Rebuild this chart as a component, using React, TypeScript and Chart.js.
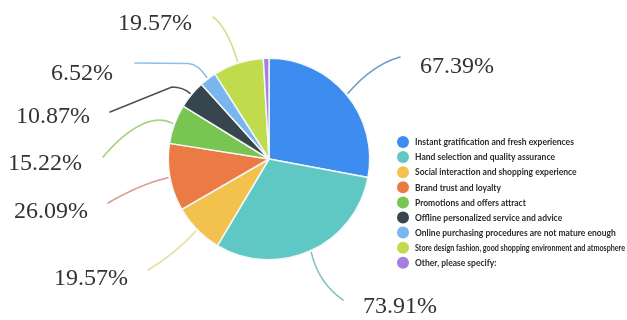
import React, { useEffect, useRef } from 'react';
import { Chart, registerables } from 'chart.js';

Chart.register(...registerables);

const categories = [
  'Instant gratification and fresh experiences',
  'Hand selection and quality assurance',
  'Social interaction and shopping experience',
  'Brand trust and loyalty',
  'Promotions and offers attract',
  'Offline personalized service and advice',
  'Online purchasing procedures are not mature enough',
  'Store design fashion, good shopping environment and atmosphere',
  'Other, please specify:',
];

const values = [67.39, 73.91, 19.57, 26.09, 15.22, 10.87, 6.52, 19.57, 2.17];

const sliceColors = [
  '#3d8cef',
  '#5fc8c5',
  '#f3c14d',
  '#ec7a45',
  '#78c552',
  '#37464e',
  '#79b6f0',
  '#c0dc4c',
  '#a47fe0',
];

const leaderColors = [
  '#6f9cc7',
  '#82c2c2',
  '#eadf9c',
  '#d99a92',
  '#a6d282',
  '#4b5358',
  '#8cc0e8',
  '#d5df8c',
  '#b79ae6',
];

// label placement relative to the pie centre (px); paths start at the slice's outer edge
type Seg = (string | number)[];
const labelLayout: { align: CanvasTextAlign; at: [number, number]; path: Seg[] }[] = [
  { align: 'left', at: [151, -92], path: [['q', 103, -94, 131, -102]] },
  { align: 'left', at: [94, 148], path: [['q', 49.5, 124, 74, 141]] },
  { align: 'right', at: [-141, 120], path: [['q', -95, 96, -121, 111]] },
  { align: 'right', at: [-181, 53], path: [['q', -127, 24.5, -161, 44]] },
  { align: 'right', at: [-187, 5], path: [['c', -114, -45, -139, -34, -166, -2]] },
  { align: 'right', at: [-179, -42], path: [['q', -86, -72, -97, -72], ['l', -159, -47]] },
  { align: 'right', at: [-156, -85], path: [['q', -71, -95, -81, -95.5], ['l', -134, -96]] },
  { align: 'right', at: [-77, -135], path: [['q', -42, -132, -56, -142]] },
];

const legendLayout = { dx: 134, dy: -17, step: 15.1, r: 6, textGap: 12, squeeze: 0.85 };

const labelsPlugin = {
  id: 'outerLabels',
  afterDraw(chart: any) {
    const ctx: CanvasRenderingContext2D = chart.ctx;
    const meta = chart.getDatasetMeta(0);
    const arcs = meta.data;
    if (!arcs.length) return;
    const cx = arcs[0].x;
    const cy = arcs[0].y;
    const ds = chart.data.datasets[0];

    // leader lines + percentage labels
    labelLayout.forEach((lay, i) => {
      const arc = arcs[i];
      const mid = (arc.startAngle + arc.endAngle) / 2;
      const rr = arc.outerRadius + 2;
      ctx.save();
      ctx.strokeStyle = leaderColors[i];
      ctx.lineWidth = 1.6;
      ctx.lineCap = 'round';
      ctx.lineJoin = 'round';
      ctx.beginPath();
      ctx.moveTo(cx + Math.cos(mid) * rr, cy + Math.sin(mid) * rr);
      lay.path.forEach((s) => {
        const n = s.slice(1) as number[];
        if (s[0] === 'q') ctx.quadraticCurveTo(cx + n[0], cy + n[1], cx + n[2], cy + n[3]);
        else if (s[0] === 'c')
          ctx.bezierCurveTo(cx + n[0], cy + n[1], cx + n[2], cy + n[3], cx + n[4], cy + n[5]);
        else ctx.lineTo(cx + n[0], cy + n[1]);
      });
      ctx.stroke();
      ctx.fillStyle = '#333333';
      ctx.font = '24px "Liberation Serif", "Times New Roman", serif';
      ctx.textAlign = lay.align;
      ctx.textBaseline = 'middle';
      ctx.fillText(values[i].toFixed(2) + '%', cx + lay.at[0], cy + lay.at[1]);
      ctx.restore();
    });

    // legend
    const labels: string[] = chart.data.labels;
    labels.forEach((lab, i) => {
      const x = cx + legendLayout.dx;
      const y = cy + legendLayout.dy + i * legendLayout.step;
      const tx = x + legendLayout.textGap;
      const avail = (chart.width - tx - 2) / legendLayout.squeeze;
      ctx.save();
      ctx.fillStyle = ds.backgroundColor[i];
      ctx.beginPath();
      ctx.arc(x, y, legendLayout.r, 0, Math.PI * 2);
      ctx.fill();
      ctx.fillStyle = '#2a2a2a';
      ctx.font = 'bold 10px Lato, "Open Sans", sans-serif';
      ctx.textAlign = 'left';
      ctx.textBaseline = 'middle';
      ctx.translate(tx, y);
      ctx.scale(legendLayout.squeeze, 1);
      ctx.fillText(lab, 0, 0, avail);
      ctx.restore();
    });
  },
};

export default function App() {
  const ref = useRef<HTMLCanvasElement | null>(null);
  useEffect(() => {
    if (!ref.current) return;
    const chart = new Chart(ref.current, {
      type: 'pie',
      data: {
        labels: categories,
        datasets: [
          {
            data: values,
            backgroundColor: sliceColors,
            borderColor: '#f4f8f8',
            borderWidth: 1.5,
            hoverOffset: 0,
            hoverBorderWidth: 0,
          },
        ],
      },
      options: {
        animation: false,
        responsive: false,
        maintainAspectRatio: false,
        devicePixelRatio: 1,
        layout: { padding: { left: 167.5, top: 57.5, right: 256.5, bottom: 59.5 } },
        plugins: {
          legend: { display: false },
          tooltip: { enabled: false },
        },
        events: [],
      },
      plugins: [labelsPlugin],
    });
    return () => chart.destroy();
  }, []);
  return (
    <div style={{ position: 'absolute', left: 0, top: 0, width: 627, height: 320 }}>
      <canvas ref={ref} width={627} height={320} style={{ display: 'block', width: 627, height: 320 }} />
    </div>
  );
}
